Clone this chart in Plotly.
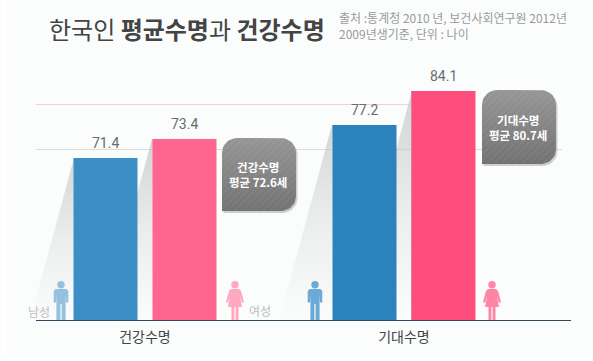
import numpy as np
import plotly.graph_objects as go

W, H = 593, 361
FONT = "Noto Sans CJK KR"

categories = ["건강수명", "기대수명"]
male_labels = [71.4, 77.2]
female_labels = [73.4, 84.1]
# The reference bars are not to scale with their printed labels: these are the
# drawn heights, on the scale set by the two average lines.
male_heights = [71.07, 77.01]
female_heights = [74.49, 83.14]
average_values = [72.6, 80.7]
average_colors = ["#dcdcdc", "#fbc9da"]
average_ends = [562, 412]
callout_texts = ["<b>건강수명<br>평균 72.6세</b>", "<b>기대수명<br>평균 80.7세</b>"]
title_text = "한국인 <b>평균수명</b>과 <b>건강수명</b>"
source_text = "출처 :통계청 2010 년, 보건사회연구원 2012년<br>2009년생기준, 단위 : 나이"

MALE = ["#3c8fc6", "#2b82bd"]
FEMALE = ["#ff668f", "#ff4d7c"]
BASE = 320
y_low = 72.6 - (BASE - 149.5) / 5.55
y_high = y_low + BASE / 5.55

fig = go.Figure()

def shadow(xt, yt, xr, darkness):
    xb = xt - (BASE - yt) * 0.27
    fig.add_trace(go.Scatter(
        x=[xt, xr, xr, xb, xt], y=[yt, yt, BASE, BASE, yt], mode="lines",
        line=dict(width=0), fill="toself", hoverinfo="skip", showlegend=False,
        fillgradient=dict(type="vertical", colorscale=[
            [0, "rgba(200,200,200,0)"], [0.5, f"rgba(200,200,200,{darkness * 0.4})"],
            [1, f"rgba(200,200,200,{darkness})"]]),
        xaxis="x", yaxis="y"))

shadow(74, 158, 110, 0.75)
shadow(152, 139, 190, 0.8)
shadow(332, 125, 370, 0.75)
shadow(412, 91, 450, 0.8)
fig.add_trace(go.Scatter(x=[411.5, 411.5], y=[91, BASE], mode="lines",
                         line=dict(color="#b4b4b4", width=1), hoverinfo="skip",
                         showlegend=False, xaxis="x", yaxis="y"))

fig.add_trace(go.Bar(x=categories, y=male_heights, marker=dict(color=MALE, line_width=0),
                     name="남성", showlegend=False, hoverinfo="skip",
                     xaxis="x2", yaxis="y2"))
fig.add_trace(go.Bar(x=categories, y=female_heights, marker=dict(color=FEMALE, line_width=0),
                     name="여성", showlegend=False, hoverinfo="skip",
                     xaxis="x2", yaxis="y2"))

def rounded(x0, y0, x1, y1, r):
    pts = []
    for cx, cy, a0 in [(x0 + r, y0 + r, 180), (x1 - r, y0 + r, 270), (x1 - r, y1 - r, 0)]:
        for a in np.radians(np.linspace(a0, a0 + 90, 10)):
            pts.append((cx + r * np.cos(a), cy + r * np.sin(a)))
    pts += [(x0, y1), (x0, y0 + r)]
    return [p[0] for p in pts], [p[1] for p in pts]

def callout(x0, y0, x1, y1):
    xs, ys = rounded(x0 + 1.5, y0 + 2, x1 + 1.5, y1 + 2, 15)
    fig.add_trace(go.Scatter(x=xs, y=ys, mode="lines", line=dict(width=0), fill="toself",
                             fillcolor="rgba(120,120,120,0.35)", hoverinfo="skip",
                             showlegend=False, xaxis="x3", yaxis="y3"))
    xs, ys = rounded(x0, y0, x1, y1, 15)
    fig.add_trace(go.Scatter(x=xs, y=ys, mode="lines", line=dict(width=0), fill="toself",
                             hoverinfo="skip", showlegend=False, xaxis="x3", yaxis="y3",
                             fillgradient=dict(type="vertical", colorscale=[
                                 [0, "#727272"], [1, "#969696"]])))
    fig.add_trace(go.Scatter(x=xs, y=ys, mode="lines", line=dict(width=0), fill="toself",
                             fillcolor="rgba(0,0,0,0)", hoverinfo="skip", showlegend=False,
                             fillpattern=dict(shape="/", fgcolor="rgba(255,255,255,0.10)",
                                              bgcolor="rgba(0,0,0,0)", size=5, solidity=0.3),
                             xaxis="x3", yaxis="y3"))

callout(222, 138, 296, 211)
callout(482, 90, 556, 164)

shapes = []
for v, c, end in zip(average_values, average_colors, average_ends):
    shapes.append(dict(type="line", xref="x2 domain", yref="y2", x0=0,
                       x1=(end - 36) / (571 - 36), y0=v, y1=v,
                       line=dict(color=c, width=1), layer="below"))

def person(cx, color, female):
    s = [dict(type="circle", xref="x3", yref="y3", x0=cx - 3.7, x1=cx + 3.7, y0=281, y1=288.4,
              fillcolor=color, line_width=0, layer="above")]
    if female:
        path = (f"M{cx-4},289 L{cx+4},289 L{cx+6},291 L{cx+9},302 L{cx+7},303 L{cx+5},296 "
                f"L{cx+7},307 L{cx+3.5},307 L{cx+3.5},320 L{cx+0.6},320 L{cx+0.6},307 "
                f"L{cx-0.6},307 L{cx-0.6},320 L{cx-3.5},320 L{cx-3.5},307 L{cx-7},307 "
                f"L{cx-5},296 L{cx-7},303 L{cx-9},302 L{cx-6},291 Z")
    else:
        path = (f"M{cx-5.5},289 L{cx+5.5},289 L{cx+7.3},291 L{cx+7.3},302.5 L{cx+5},302.5 "
                f"L{cx+4.6},294 L{cx+4.6},320 L{cx+0.6},320 L{cx+0.6},304 L{cx-0.6},304 "
                f"L{cx-0.6},320 L{cx-4.6},320 L{cx-4.6},294 L{cx-5},302.5 L{cx-7.3},302.5 "
                f"L{cx-7.3},291 Z")
    s.append(dict(type="path", xref="x3", yref="y3", path=path, fillcolor=color,
                  line_width=0, layer="above"))
    return s

shapes += person(61, "#94c1e0", False)
shapes += person(235, "#ffa8c0", True)
shapes += person(315, "#6aaad6", False)
shapes += person(492, "#ff85a6", True)

shapes.insert(0, dict(type="rect", xref="paper", yref="paper", x0=7 / W, x1=1, y0=0.0139, y1=1,
                      fillcolor="#fbfdfd", line_width=0, layer="below"))

anns = []
def px_text(x, y, text, size, color, xanchor="center", align="center"):
    anns.append(dict(xref="x3", yref="y3", x=x, y=y, text=text, showarrow=False,
                     xanchor=xanchor, yanchor="middle", align=align,
                     font=dict(family=FONT, size=size, color=color)))

for i, cat in enumerate(categories):
    for vals, hs, shift in [(male_labels, male_heights, -39.5), (female_labels, female_heights, 39.5)]:
        anns.append(dict(xref="x2", yref="y2", x=cat, y=hs[i], text=f"{vals[i]:.1f}",
                         xshift=shift, yshift=15, showarrow=False, yanchor="middle",
                         font=dict(family="Roboto", size=14, color="#6b6b6b")))

px_text(47, 28, title_text, 24, "#444444", xanchor="left")
px_text(337, 25.5, source_text, 12, "#9a9a9a", xanchor="left", align="left")
px_text(38.5, 311, "남성", 12, "#bdbdbd")
px_text(260, 310, "여성", 12, "#bdbdbd")
px_text(258, 174.5, callout_texts[0], 11.5, "#ffffff")
px_text(518, 127.5, callout_texts[1], 11.5, "#ffffff")

hidden = dict(visible=False, fixedrange=True)
fig.update_layout(
    width=W, height=H, autosize=False,
    margin=dict(l=0, r=0, t=0, b=0),
    paper_bgcolor="#ffffff", plot_bgcolor="rgba(0,0,0,0)",
    barmode="group", bargap=0.39, bargroupgap=0.19,
    shapes=shapes, annotations=anns, showlegend=False,
    xaxis=dict(domain=[0, 1], range=[0, W], anchor="y", **hidden),
    yaxis=dict(domain=[0, 1], range=[H, 0], anchor="x", **hidden),
    xaxis2=dict(domain=[36 / W, 571 / W], range=[-(145 - 36) / 259, (571 - 145) / 259],
                anchor="y2", type="category", showgrid=False, zeroline=False,
                showline=True, linecolor="#34495e", linewidth=1, ticks="",
                ticklabelstandoff=4,
                tickfont=dict(family=FONT, size=14, color="#444444"), fixedrange=True),
    yaxis2=dict(domain=[(H - BASE) / H, 1], range=[y_low, y_high], anchor="x2", **hidden),
    xaxis3=dict(domain=[0, 1], range=[0, W], anchor="y3", **hidden),
    yaxis3=dict(domain=[0, 1], range=[H, 0], anchor="x3", **hidden),
)
fig.write_html("out.html", config=dict(displayModeBar=False),
               post_script="document.body.style.margin='0';document.body.style.overflow='hidden';")
